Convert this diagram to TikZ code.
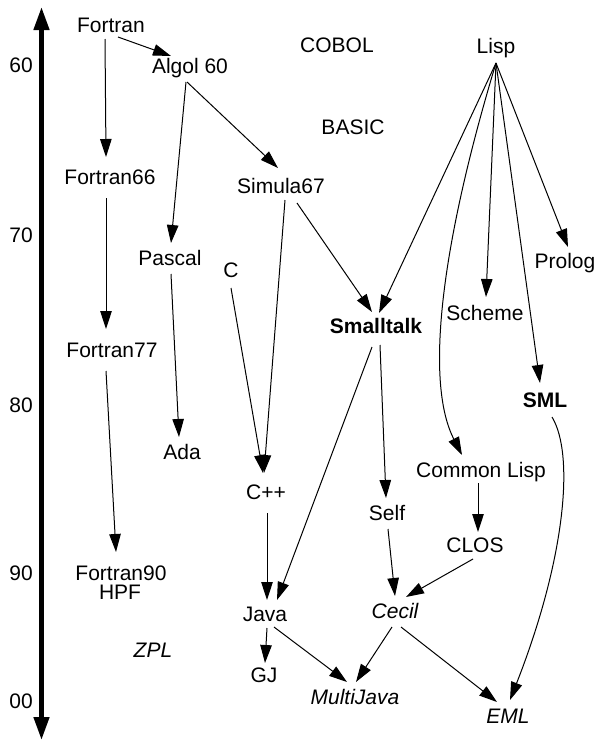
\documentclass[tikz,border=0pt]{standalone}
\usepackage{fontspec}
\setmainfont{Liberation Sans}
\usetikzlibrary{arrows.meta}
\begin{document}
\begin{tikzpicture}[x=1pt,y=-1pt,
  lbl/.style={anchor=base,inner sep=0pt,font=\fontsize{21}{25}\selectfont},
  tick/.style={anchor=base east,inner sep=0pt,font=\fontsize{21}{25}\selectfont},
  edge/.style={line width=1pt,-{Triangle[length=18pt,width=11.5pt]}},
  axisline/.style={line width=4.5pt,{Triangle[length=23pt,width=15pt]}-{Triangle[length=23pt,width=15pt]}}]
\useasboundingbox (0,0) rectangle (598,742);
% axis
\coordinate (axtop) at (41.5,7);
\coordinate (axbot) at (41.5,740);
\draw[axisline] (axtop) -- (axbot);
\node[tick] (t60) at (33,72) {60};
\node[tick] (t70) at (33,242) {70};
\node[tick] (t80) at (33,412) {80};
\node[tick] (t90) at (33,580) {90};
\node[tick] (t00) at (33,708) {00};
% nodes
\node[lbl] (fortran) at (111,32) {Fortran};
\node[lbl] (algol) at (190,73) {Algol 60};
\node[lbl] (cobol) at (337,52) {COBOL};
\node[lbl] (lisp) at (496,53) {Lisp};
\node[lbl] (basic) at (353,134) {BASIC};
\node[lbl] (f66) at (110,184) {Fortran66};
\node[lbl] (simula) at (281,193) {Simula67};
\node[lbl] (pascal) at (170,265) {Pascal};
\node[lbl] (c) at (231,277) {C};
\node[lbl] (prolog) at (565,268) {Prolog};
\node[lbl,font=\fontsize{21}{25}\selectfont\bfseries] (smalltalk) at (376,333) {Smalltalk};
\node[lbl] (scheme) at (485,320) {Scheme};
\node[lbl] (f77) at (112,357) {Fortran77};
\node[lbl,font=\fontsize{21}{25}\selectfont\bfseries] (sml) at (545,407) {SML};
\node[lbl] (ada) at (182,459) {Ada};
\node[lbl] (clisp) at (481,477) {Common Lisp};
\node[lbl] (cpp) at (266,499) {C++};
\node[lbl] (self) at (387,520) {Self};
\node[lbl] (clos) at (475,552) {CLOS};
\node[lbl] (f90) at (121,580) {Fortran90};
\node[lbl] (hpf) at (120,599) {HPF};
\node[lbl] (java) at (265,621) {Java};
\node[lbl,font=\fontsize{21}{25}\selectfont\itshape] (cecil) at (395,618) {Cecil};
\node[lbl,font=\fontsize{21}{25}\selectfont\itshape] (zpl) at (153,657) {ZPL};
\node[lbl] (gj) at (264,682) {GJ};
\node[lbl,font=\fontsize{21}{25}\selectfont\itshape] (multijava) at (355,704) {MultiJava};
\node[lbl,font=\fontsize{21}{25}\selectfont\itshape] (eml) at (508,723) {EML};
% edges
\draw[edge] ([shift={(7,5)}]fortran.base) -- ([shift={(-19,-17)}]algol.base);
\draw[edge] ([shift={(-6,7)}]fortran.base) -- ([shift={(-4,-27)}]f66.base);
\draw[edge] ([shift={(-3,9)}]algol.base) -- ([shift={(-3,-25)}]simula.base);
\draw[edge] ([shift={(-4,9)}]algol.base) -- ([shift={(1,-22)}]pascal.base);
\draw[edge] ([shift={(-4,14)}]f66.base) -- ([shift={(-6,-28)}]f77.base);
\draw[edge] ([shift={(-6,14)}]f77.base) -- ([shift={(-5,-28)}]f90.base);
\draw[edge] ([shift={(1,9)}]pascal.base) -- ([shift={(-3,-22)}]ada.base);
\draw[edge] ([shift={(0,11)}]c.base) -- ([shift={(-3,-26)}]cpp.base);
\draw[edge] ([shift={(4,7)}]simula.base) -- ([shift={(-2,-26)}]cpp.base);
\draw[edge] ([shift={(16,10)}]simula.base) -- ([shift={(-4,-21)}]smalltalk.base);
\draw[edge] ([shift={(0,10)}]lisp.base) -- ([shift={(3,-20)}]smalltalk.base);
\draw[edge] ([shift={(0,10)}]lisp.base) .. controls (438,255) and (426,385) .. ([shift={(-19,-22)}]clisp.base);
\draw[edge] ([shift={(0,10)}]lisp.base) -- ([shift={(1,-23)}]scheme.base);
\draw[edge] ([shift={(0,10)}]lisp.base) -- ([shift={(-5,-24)}]sml.base);
\draw[edge] ([shift={(0,10)}]lisp.base) -- ([shift={(3,-21)}]prolog.base);
\draw[edge] ([shift={(-4,14)}]smalltalk.base) -- ([shift={(12,-21)}]java.base);
\draw[edge] ([shift={(4,12)}]smalltalk.base) -- ([shift={(-1,-22)}]self.base);
\draw[edge] ([shift={(-3,6)}]clisp.base) -- ([shift={(3,-20)}]clos.base);
\draw[edge] ([shift={(7,10)}]sml.base) .. controls (575,455) and (565,560) .. ([shift={(2,-23)}]eml.base);
\draw[edge] ([shift={(1,14)}]cpp.base) -- ([shift={(2,-21)}]java.base);
\draw[edge] ([shift={(1,9)}]self.base) -- ([shift={(0,-22)}]cecil.base);
\draw[edge] ([shift={(-2,7)}]clos.base) -- ([shift={(11,-21)}]cecil.base);
\draw[edge] ([shift={(2,7)}]java.base) -- ([shift={(1,-19)}]gj.base);
\draw[edge] ([shift={(9,6)}]java.base) -- ([shift={(-8,-22)}]multijava.base);
\draw[edge] ([shift={(-3,9)}]cecil.base) -- ([shift={(1,-22)}]multijava.base);
\draw[edge] ([shift={(6,9)}]cecil.base) -- ([shift={(-11,-21)}]eml.base);
\end{tikzpicture}
\end{document}
